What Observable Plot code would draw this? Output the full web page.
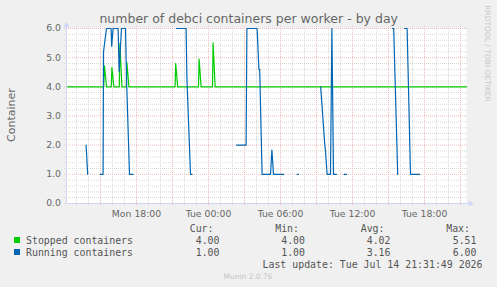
<!DOCTYPE html>
<html><head><meta charset="utf-8">
<script src="https://cdn.jsdelivr.net/npm/d3@7"></script>
<script src="https://cdn.jsdelivr.net/npm/@observablehq/plot@0.6"></script>
<style>
html,body{margin:0;padding:0;background:#f0f0f0;}
#chart{width:497px;height:287px;overflow:hidden;}
</style></head><body><div id="chart"></div>
<script>
// ---- text ----
const chartTitle = "number of debci containers per worker - by day";
const yAxisLabel = "Container";
const yTicks = [0, 1, 2, 3, 4, 5, 6];
const xTickTimes = ["2026-07-13T18:00", "2026-07-14T00:00", "2026-07-14T06:00", "2026-07-14T12:00", "2026-07-14T18:00"];
const xTickLabels = ["Mon 18:00", "Tue 00:00", "Tue 06:00", "Tue 12:00", "Tue 18:00"];
const xDomain = ["2026-07-13T12:10", "2026-07-14T21:30"];

// ---- series: Stopped containers (green) ----
const stoppedTimes = [
  "2026-07-13T12:15", "2026-07-13T15:16", "2026-07-13T15:20", "2026-07-13T15:30",
  "2026-07-13T15:54", "2026-07-13T15:57", "2026-07-13T16:07",
  "2026-07-13T16:34", "2026-07-13T16:37", "2026-07-13T16:47",
  "2026-07-13T17:09", "2026-07-13T17:12", "2026-07-13T17:22",
  "2026-07-13T21:13", "2026-07-13T21:16", "2026-07-13T21:26",
  "2026-07-13T23:10", "2026-07-13T23:13", "2026-07-13T23:23",
  "2026-07-14T00:20", "2026-07-14T00:23", "2026-07-14T00:33",
  "2026-07-14T21:30"
];
const stoppedValues = [
  4.0, 4.0, 4.72, 4.0,
  4.0, 4.66, 4.0,
  4.0, 5.48, 4.0,
  4.0, 4.83, 4.0,
  4.0, 4.80, 4.0,
  4.0, 4.95, 4.0,
  4.0, 5.51, 4.0,
  4.0
];

// ---- series: Running containers (blue); null = no data (gap) ----
const runningTimes = [
  "2026-07-13T13:48", "2026-07-13T13:56", "2026-07-13T13:56",
  "2026-07-13T14:58", "2026-07-13T15:13", "2026-07-13T15:15", "2026-07-13T15:30", "2026-07-13T15:53",
  "2026-07-13T15:56", "2026-07-13T16:03", "2026-07-13T16:28", "2026-07-13T16:33", "2026-07-13T16:45",
  "2026-07-13T17:05", "2026-07-13T17:10", "2026-07-13T17:25", "2026-07-13T17:43", "2026-07-13T17:43",
  "2026-07-13T21:20", "2026-07-13T22:08", "2026-07-13T22:12", "2026-07-13T22:30", "2026-07-13T22:38", "2026-07-13T22:38",
  "2026-07-14T02:20", "2026-07-14T03:08", "2026-07-14T03:12", "2026-07-14T04:03", "2026-07-14T04:12",
  "2026-07-14T04:16", "2026-07-14T04:28", "2026-07-14T05:10", "2026-07-14T05:17", "2026-07-14T05:25",
  "2026-07-14T06:16", "2026-07-14T06:16",
  "2026-07-14T07:23", "2026-07-14T07:30", "2026-07-14T07:30",
  "2026-07-14T09:21", "2026-07-14T09:41", "2026-07-14T09:45", "2026-07-14T09:53", "2026-07-14T10:10",
  "2026-07-14T10:17", "2026-07-14T10:25", "2026-07-14T10:40", "2026-07-14T10:40",
  "2026-07-14T11:18", "2026-07-14T11:31", "2026-07-14T11:31",
  "2026-07-14T15:20", "2026-07-14T15:26", "2026-07-14T15:46", "2026-07-14T15:46",
  "2026-07-14T16:20", "2026-07-14T16:33", "2026-07-14T16:50", "2026-07-14T17:36"
];
const runningValues = [
  2.0, 1.0, null,
  1.0, 1.0, 5.2, 6.0, 6.0,
  5.39, 6.0, 6.0, 4.53, 6.0,
  6.0, 4.3, 1.0, 1.0, null,
  6.0, 6.0, 4.3, 1.0, 1.0, null,
  2.0, 2.0, 6.0, 6.0, 4.6,
  4.6, 1.0, 1.0, 1.83, 1.0,
  1.0, null,
  1.0, 1.0, null,
  4.0, 2.05, 1.8, 1.0, 1.0,
  6.0, 1.0, 1.0, null,
  1.0, 1.0, null,
  6.0, 6.0, 1.0, null,
  6.0, 6.0, 1.0, 1.0
];

// ---- legend ----
const legendNames = ["Stopped containers", "Running containers"];
const legendColors = ["#00cc00", "#0066b3"];
const statHeaders = ["Cur:", "Min:", "Avg:", "Max:"];
const statCur = ["4.00", "1.00"];
const statMin = ["4.00", "1.00"];
const statAvg = ["4.02", "3.16"];
const statMax = ["5.51", "6.00"];
const lastUpdate = "Last update: Tue Jul 14 21:31:49 2026";
const watermark = "Munin 2.0.76";
const sideText = "RRDTOOL / TOBI OETIKER";

// ---- build ----
const parse = s => new Date(s + ":00Z");
const x0 = parse(xDomain[0]), x1 = parse(xDomain[1]);
const stopped = stoppedTimes.map((t, i) => ({t: parse(t), v: stoppedValues[i]}));
const running = runningTimes.map((t, i) => ({t: parse(t), v: runningValues[i] == null ? NaN : runningValues[i]}));
const tickDates = xTickTimes.map(parse);
const labelMap = new Map(tickDates.map((d, i) => [+d, xTickLabels[i]]));

const hours = d3.utcHour.range(x0, x1);
const xMajor = hours.filter(d => d.getUTCHours() % 3 === 0);
const xMinor = hours.filter(d => d.getUTCHours() % 3 !== 0);
const yMinor = d3.range(1, 30).filter(i => i % 5 !== 0).map(i => i / 5);

const minorC = "#dadada", majorC = "#efbcbc", axisC = "#cfd6f8";

const chart = Plot.plot({
  width: 497, height: 287,
  marginLeft: 66, marginRight: 31, marginTop: 28, marginBottom: 84,
  style: {background: "#f0f0f0", fontFamily: "'DejaVu Sans', sans-serif", fontSize: "9.3px", color: "#666", overflow: "visible"},
  x: {type: "utc", domain: [x0, x1]},
  y: {domain: [0, 6]},
  marks: [
    Plot.frame({fill: "white", stroke: "none"}),
    Plot.ruleY(yMinor, {stroke: minorC, strokeDasharray: "1,1", insetLeft: -2, insetRight: -2}),
    Plot.ruleX(xMinor, {stroke: minorC, strokeDasharray: "1,1", insetTop: -2, insetBottom: -3}),
    Plot.ruleY(yTicks, {stroke: majorC, strokeDasharray: "1,1", insetLeft: -2, insetRight: -2}),
    Plot.ruleX(xMajor, {stroke: majorC, strokeDasharray: "1,1", insetTop: -2, insetBottom: -3}),
    Plot.axisY({ticks: yTicks, tickFormat: d => d.toFixed(1), tickSize: 0, tickPadding: 5.5, label: null}),
    Plot.axisX({ticks: tickDates, tickFormat: d => labelMap.get(+d), tickSize: 0, tickPadding: 6.5, label: null}),
    Plot.line(stopped, {x: "t", y: "v", stroke: legendColors[0], strokeWidth: 1.2}),
    Plot.line(running, {x: "t", y: "v", stroke: legendColors[1], strokeWidth: 1.2}),
    Plot.ruleX([x0], {stroke: axisC, insetTop: -4}),
    Plot.ruleY([0], {stroke: axisC, insetRight: -4}),
    Plot.dot([x0], {x: d => d, y: 6, symbol: "triangle", r: 2.3, fill: axisC, stroke: "none", dy: -3}),
    Plot.dot([x1], {x: d => d, y: 0, symbol: "triangle", r: 2.3, fill: axisC, stroke: "none", rotate: 90, dx: 4})
  ]
});
document.getElementById("chart").appendChild(chart);

const svg = d3.select(chart);
const sans = "'DejaVu Sans', sans-serif";
const mono = "'DejaVu Sans Mono', monospace";
svg.append("text").attr("x", 248.7).attr("y", 23).attr("text-anchor", "middle")
  .attr("font-family", sans).attr("font-size", 12.5).attr("fill", "#666").text(chartTitle);
svg.append("text").attr("transform", "translate(15,115) rotate(-90)").attr("text-anchor", "middle")
  .attr("font-family", sans).attr("font-size", 11).attr("fill", "#666").text(yAxisLabel);

const colEnds = [213.5, 299, 384.5, 470];
const valEnds = [219.5, 305, 390.5, 476.5];
statHeaders.forEach((h, i) => {
  svg.append("text").attr("x", colEnds[i]).attr("y", 231.5).attr("text-anchor", "end")
    .attr("font-family", mono).attr("font-size", 9.9).attr("fill", "#555").text(h);
});
const stats = [statCur, statMin, statAvg, statMax];
legendNames.forEach((name, r) => {
  const yb = 243.5 + r * 12;
  svg.append("rect").attr("x", 14).attr("y", yb - 6.5).attr("width", 6).attr("height", 6).attr("fill", legendColors[r]);
  svg.append("text").attr("x", 26).attr("y", yb).attr("text-anchor", "start").attr("font-family", mono).attr("font-size", 9.9)
    .attr("fill", "#555").text(name);
  stats.forEach((s, c) => {
    svg.append("text").attr("x", valEnds[c]).attr("y", yb).attr("text-anchor", "end")
      .attr("font-family", mono).attr("font-size", 9.9).attr("fill", "#555").text(s[r]);
  });
});
svg.append("text").attr("x", 482.5).attr("y", 267.5).attr("text-anchor", "end")
  .attr("font-family", mono).attr("font-size", 9.9).attr("fill", "#555").text(lastUpdate);
svg.append("text").attr("x", 248).attr("y", 279).attr("text-anchor", "middle")
  .attr("font-family", sans).attr("font-size", 7.5).attr("fill", "#c4c4c4").text(watermark);
svg.append("text").attr("transform", "translate(485,53.5) rotate(90)").attr("text-anchor", "middle")
  .attr("font-family", sans).attr("font-size", 7.5).attr("fill", "#c8c8c8").text(sideText);
</script>
</body></html>
